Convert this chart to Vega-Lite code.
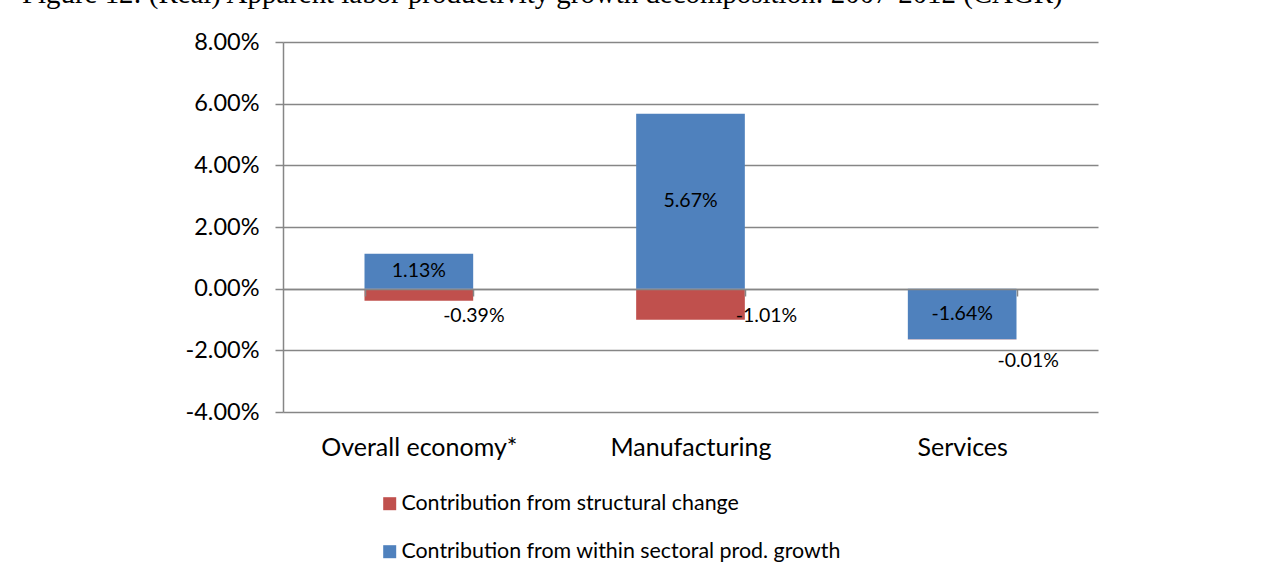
{
  "$schema": "https://vega.github.io/schema/vega-lite/v6.json",
  "autosize": "none",
  "width": 815,
  "height": 370,
  "padding": {"left": 283, "top": 42, "right": 178, "bottom": 171},
  "background": "white",
  "config": {
    "view": {"stroke": null},
    "locale": {"number": {"decimal": ".", "thousands": ",", "grouping": [3], "currency": ["$", ""], "minus": "-"}}
  },
  "title": {
    "text": "Figure 12: (Real) Apparent labor productivity growth decomposition: 2007-2012 (CAGR)",
    "anchor": "start",
    "frame": "group",
    "font": "Liberation Serif",
    "fontSize": 28.9,
    "fontWeight": "normal",
    "color": "black",
    "dx": -261,
    "dy": 12,
    "offset": 10,
    "baseline": "alphabetic"
  },
  "data": {
    "values": [
      {"sector": "Overall economy*", "series": "Contribution from structural change", "value": -0.0039},
      {"sector": "Overall economy*", "series": "Contribution from within sectoral prod. growth", "value": 0.0113},
      {"sector": "Manufacturing", "series": "Contribution from structural change", "value": -0.0101},
      {"sector": "Manufacturing", "series": "Contribution from within sectoral prod. growth", "value": 0.0567},
      {"sector": "Services", "series": "Contribution from structural change", "value": -0.0001},
      {"sector": "Services", "series": "Contribution from within sectoral prod. growth", "value": -0.0164}
    ]
  },
  "transform": [
    {"stack": "value", "groupby": ["sector"], "sort": [{"field": "series", "order": "descending"}], "as": ["s0", "s1"]}
  ],
  "encoding": {
    "x": {
      "field": "sector",
      "type": "nominal",
      "sort": ["Overall economy*", "Manufacturing", "Services"],
      "scale": {"paddingInner": 0.6, "paddingOuter": 0.3},
      "axis": {
        "title": null,
        "offset": -123,
        "domainColor": "#868686",
        "domainWidth": 1.5,
        "tickColor": "#868686",
        "tickWidth": 1.5,
        "tickSize": 7,
        "tickBand": "extent",
        "labelAngle": 0,
        "labelFont": "Lato",
        "labelFontSize": 25,
        "labelColor": "black",
        "labelPadding": 139,
        "labelLimit": 400,
        "grid": false,
        "zindex": 1
      }
    }
  },
  "layer": [
    {
      "mark": {"type": "bar"},
      "encoding": {
        "y": {
          "field": "s0",
          "type": "quantitative",
          "scale": {"domain": [-0.04, 0.08], "nice": false},
          "axis": {
            "title": null,
            "values": [-0.04, -0.02, 0, 0.02, 0.04, 0.06, 0.08],
            "format": ".2%",
            "domainColor": "#868686",
            "domainWidth": 1.5,
            "tickColor": "#868686",
            "tickWidth": 1.5,
            "tickSize": 8,
            "gridColor": "#868686",
            "gridWidth": 1.5,
            "labelFont": "Lato",
            "labelFontSize": 23.5,
            "labelColor": "black",
            "labelPadding": 16
          }
        },
        "y2": {"field": "s1"},
        "color": {
          "field": "series",
          "type": "nominal",
          "scale": {
            "domain": ["Contribution from structural change", "Contribution from within sectoral prod. growth"],
            "range": ["#C0504D", "#4F81BD"]
          },
          "legend": {
            "orient": "none",
            "legendX": 96,
            "legendY": 451,
            "direction": "vertical",
            "title": null,
            "symbolType": "square",
            "symbolSize": 169,
            "symbolStrokeWidth": 0,
            "labelFont": "Lato",
            "labelFontSize": 21.4,
            "labelColor": "black",
            "labelOffset": 1,
            "rowPadding": 25,
            "labelLimit": 700
          }
        }
      }
    },
    {
      "transform": [
        {"fold": ["s0", "s1"], "as": ["k", "v"]},
        {"aggregate": [{"op": "mean", "field": "v", "as": "mid"}], "groupby": ["sector", "series", "value"]}
      ],
      "encoding": {
        "y": {"field": "mid", "type": "quantitative"},
        "text": {"field": "value", "type": "quantitative", "format": ".2%"}
      },
      "layer": [
        {
          "transform": [{"filter": "datum.series == 'Contribution from within sectoral prod. growth'"}],
          "mark": {"type": "text", "font": "Lato", "fontSize": 19.5, "color": "black"}
        },
        {
          "transform": [{"filter": "datum.series == 'Contribution from structural change' && datum.sector == 'Overall economy*'"}],
          "mark": {"type": "text", "font": "Lato", "fontSize": 19.5, "color": "black", "dx": 55, "dy": 21}
        },
        {
          "transform": [{"filter": "datum.series == 'Contribution from structural change' && datum.sector == 'Manufacturing'"}],
          "mark": {"type": "text", "font": "Lato", "fontSize": 19.5, "color": "black", "dx": 76, "dy": 12}
        },
        {
          "transform": [{"filter": "datum.series == 'Contribution from structural change' && datum.sector == 'Services'"}],
          "mark": {"type": "text", "font": "Lato", "fontSize": 19.5, "color": "black", "dx": 66, "dy": 22}
        }
      ]
    }
  ]
}
